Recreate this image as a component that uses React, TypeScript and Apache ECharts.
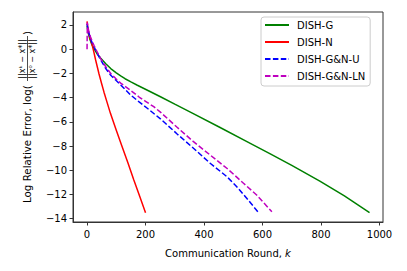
import React, { useEffect, useRef } from "react";
import * as echarts from "echarts";

const seriesNames = ["DISH-G", "DISH-N", "DISH-G&N-U", "DISH-G&N-LN"];
const seriesColors = ["#008000", "#ff0000", "#0000ff", "#bf00bf"];

const dishG: [number, number][] = [
  [0, 1.9], [5, 1.25], [10, 0.8], [17, 0.35], [24, 0.05], [35, -0.4], [47, -0.75],
  [64, -1.2], [81, -1.6], [100, -1.95], [115, -2.2], [130, -2.44], [150, -2.7],
  [172, -2.98], [210, -3.43], [251, -3.93], [300, -4.54], [360, -5.28], [455, -6.47],
  [550, -7.68], [625, -8.63], [700, -9.6], [796, -10.9], [880, -12.12], [966, -13.5],
];
const dishN: [number, number][] = [
  [0, 2.3], [3, 1.7], [6, 1.3], [10, 0.95], [14, 0.65], [18, 0.3], [23, -0.2],
  [29, -0.85], [35, -1.45], [41, -2.05], [50, -2.85], [58, -3.55], [68, -4.35],
  [80, -5.3], [100, -6.7], [120, -8.05], [140, -9.4], [160, -10.8], [180, -12.15], [200, -13.5],
];
const dishGNU: [number, number][] = [
  [0, 2.1], [3, 1.7], [6, 1.35], [12, 0.85], [18, 0.5], [24, 0.2], [35, -0.35],
  [47, -0.9], [64, -1.6], [81, -2.15], [98, -2.55], [115, -2.95], [149, -3.78],
  [178, -4.35], [206, -4.88], [251, -5.75], [308, -7.0], [364, -8.18], [421, -9.42],
  [478, -10.52], [512, -11.36], [546, -12.31], [584, -13.42],
];
const dishGNLN: [number, number][] = [
  [0, 0.0], [1, 2.2], [4, 1.7], [8, 1.3], [12, 1.0], [18, 0.62], [24, 0.3], [35, -0.25],
  [47, -0.8], [64, -1.45], [81, -2.0], [98, -2.42], [115, -2.8], [149, -3.4],
  [178, -3.95], [200, -4.3], [228, -4.75], [251, -5.2], [308, -6.45], [364, -7.64],
  [421, -8.74], [478, -9.83], [535, -11.07], [580, -12.04], [632, -13.42],
];
const seriesData = [dishG, dishN, dishGNU, dishGNLN];
const seriesDashed = [false, false, true, true];

const xTicks = [0, 200, 400, 600, 800, 1000];
const yTicks = [-14, -12, -10, -8, -6, -4, -2, 0, 2];

const FONT = "DejaVu Sans";
const AXIS_COLOR = "#333";

function fmt(v: number): string {
  return v < 0 ? "\u2212" + Math.abs(v) : String(v);
}

export default function App() {
  const ref = useRef<HTMLDivElement>(null);
  useEffect(() => {
    if (!ref.current) return;
    const chart = echarts.init(ref.current, null, { renderer: "svg" });
    chart.setOption({
      animation: false,
      backgroundColor: "#fff",
      textStyle: { fontFamily: FONT },
      grid: {
        left: 73, right: 24, top: 12, bottom: 49,
        show: true, borderColor: AXIS_COLOR, borderWidth: 1, backgroundColor: "transparent",
      },
      xAxis: {
        type: "value",
        min: -48,
        max: 1012,
        splitLine: { show: false },
        axisLine: { onZero: false, lineStyle: { color: AXIS_COLOR, width: 1 } },
        axisTick: { customValues: xTicks, length: 3.5, lineStyle: { color: AXIS_COLOR } },
        axisLabel: {
          customValues: xTicks, margin: 7, fontSize: 10, color: "#000", fontFamily: FONT,
          formatter: (v: number) => fmt(v),
        },
        name: "{n|Communication Round, }{i|k}",
        nameLocation: "middle",
        nameGap: 26,
        nameTextStyle: {
          rich: {
            n: { fontSize: 10, fontFamily: FONT, color: "#000" },
            i: { fontSize: 10, fontFamily: FONT, fontStyle: "italic", color: "#000" },
          },
        },
      },
      yAxis: {
        type: "value",
        min: -14.27,
        max: 3.07,
        splitLine: { show: false },
        axisLine: { onZero: false, lineStyle: { color: AXIS_COLOR, width: 1 } },
        axisTick: { customValues: yTicks, length: 3.5, lineStyle: { color: AXIS_COLOR } },
        axisLabel: {
          customValues: yTicks, margin: 6, fontSize: 10, color: "#000", fontFamily: FONT,
          formatter: (v: number) => fmt(v),
        },
      },
      legend: {
        orient: "vertical",
        left: 261,
        top: 17,
        data: seriesNames,
        itemWidth: 24,
        itemHeight: 10,
        itemGap: 7,
        padding: [3, 5, 5, 3],
        borderColor: "#cccccc",
        borderWidth: 1,
        borderRadius: 3,
        backgroundColor: "rgba(255,255,255,0.8)",
        itemStyle: { opacity: 0 },
        textStyle: { fontSize: 10, color: "#000", fontFamily: FONT, padding: [0, 0, 0, 3] },
      },
      graphic: [
        {
          type: "group",
          x: 27,
          y: 203,
          rotation: Math.PI / 2,
          children: [
            {
              type: "text", x: 0, y: 0,
              style: { text: "Log Relative Error, log(", fontSize: 10.3, fontFamily: FONT, fill: "#000", align: "left", verticalAlign: "middle" },
            },
            {
              type: "text", x: 144, y: -4.5,
              style: { text: "||xᵏ − x*||", fontSize: 8, fontFamily: FONT, fill: "#000", align: "center", verticalAlign: "middle" },
            },
            {
              type: "line",
              shape: { x1: 122, y1: 0.5, x2: 167, y2: 0.5 },
              style: { stroke: "#000", lineWidth: 0.7 },
            },
            {
              type: "text", x: 144, y: 5.5,
              style: { text: "||x⁰ − x*||", fontSize: 8, fontFamily: FONT, fill: "#000", align: "center", verticalAlign: "middle" },
            },
            {
              type: "text", x: 168, y: 0,
              style: { text: ")", fontSize: 10.3, fontFamily: FONT, fill: "#000", align: "left", verticalAlign: "middle" },
            },
          ],
        },
      ],
      series: seriesNames.map((name, i) => ({
        name,
        type: "line",
        data: seriesData[i],
        symbol: "none",
        smooth: false,
        color: seriesColors[i],
        lineStyle: {
          color: seriesColors[i],
          width: 1.5,
          type: seriesDashed[i] ? [5.5, 2.4] : "solid",
        },
      })),
    });
    return () => chart.dispose();
  }, []);
  return <div ref={ref} style={{ width: 407, height: 271, margin: -8 }} />;
}
